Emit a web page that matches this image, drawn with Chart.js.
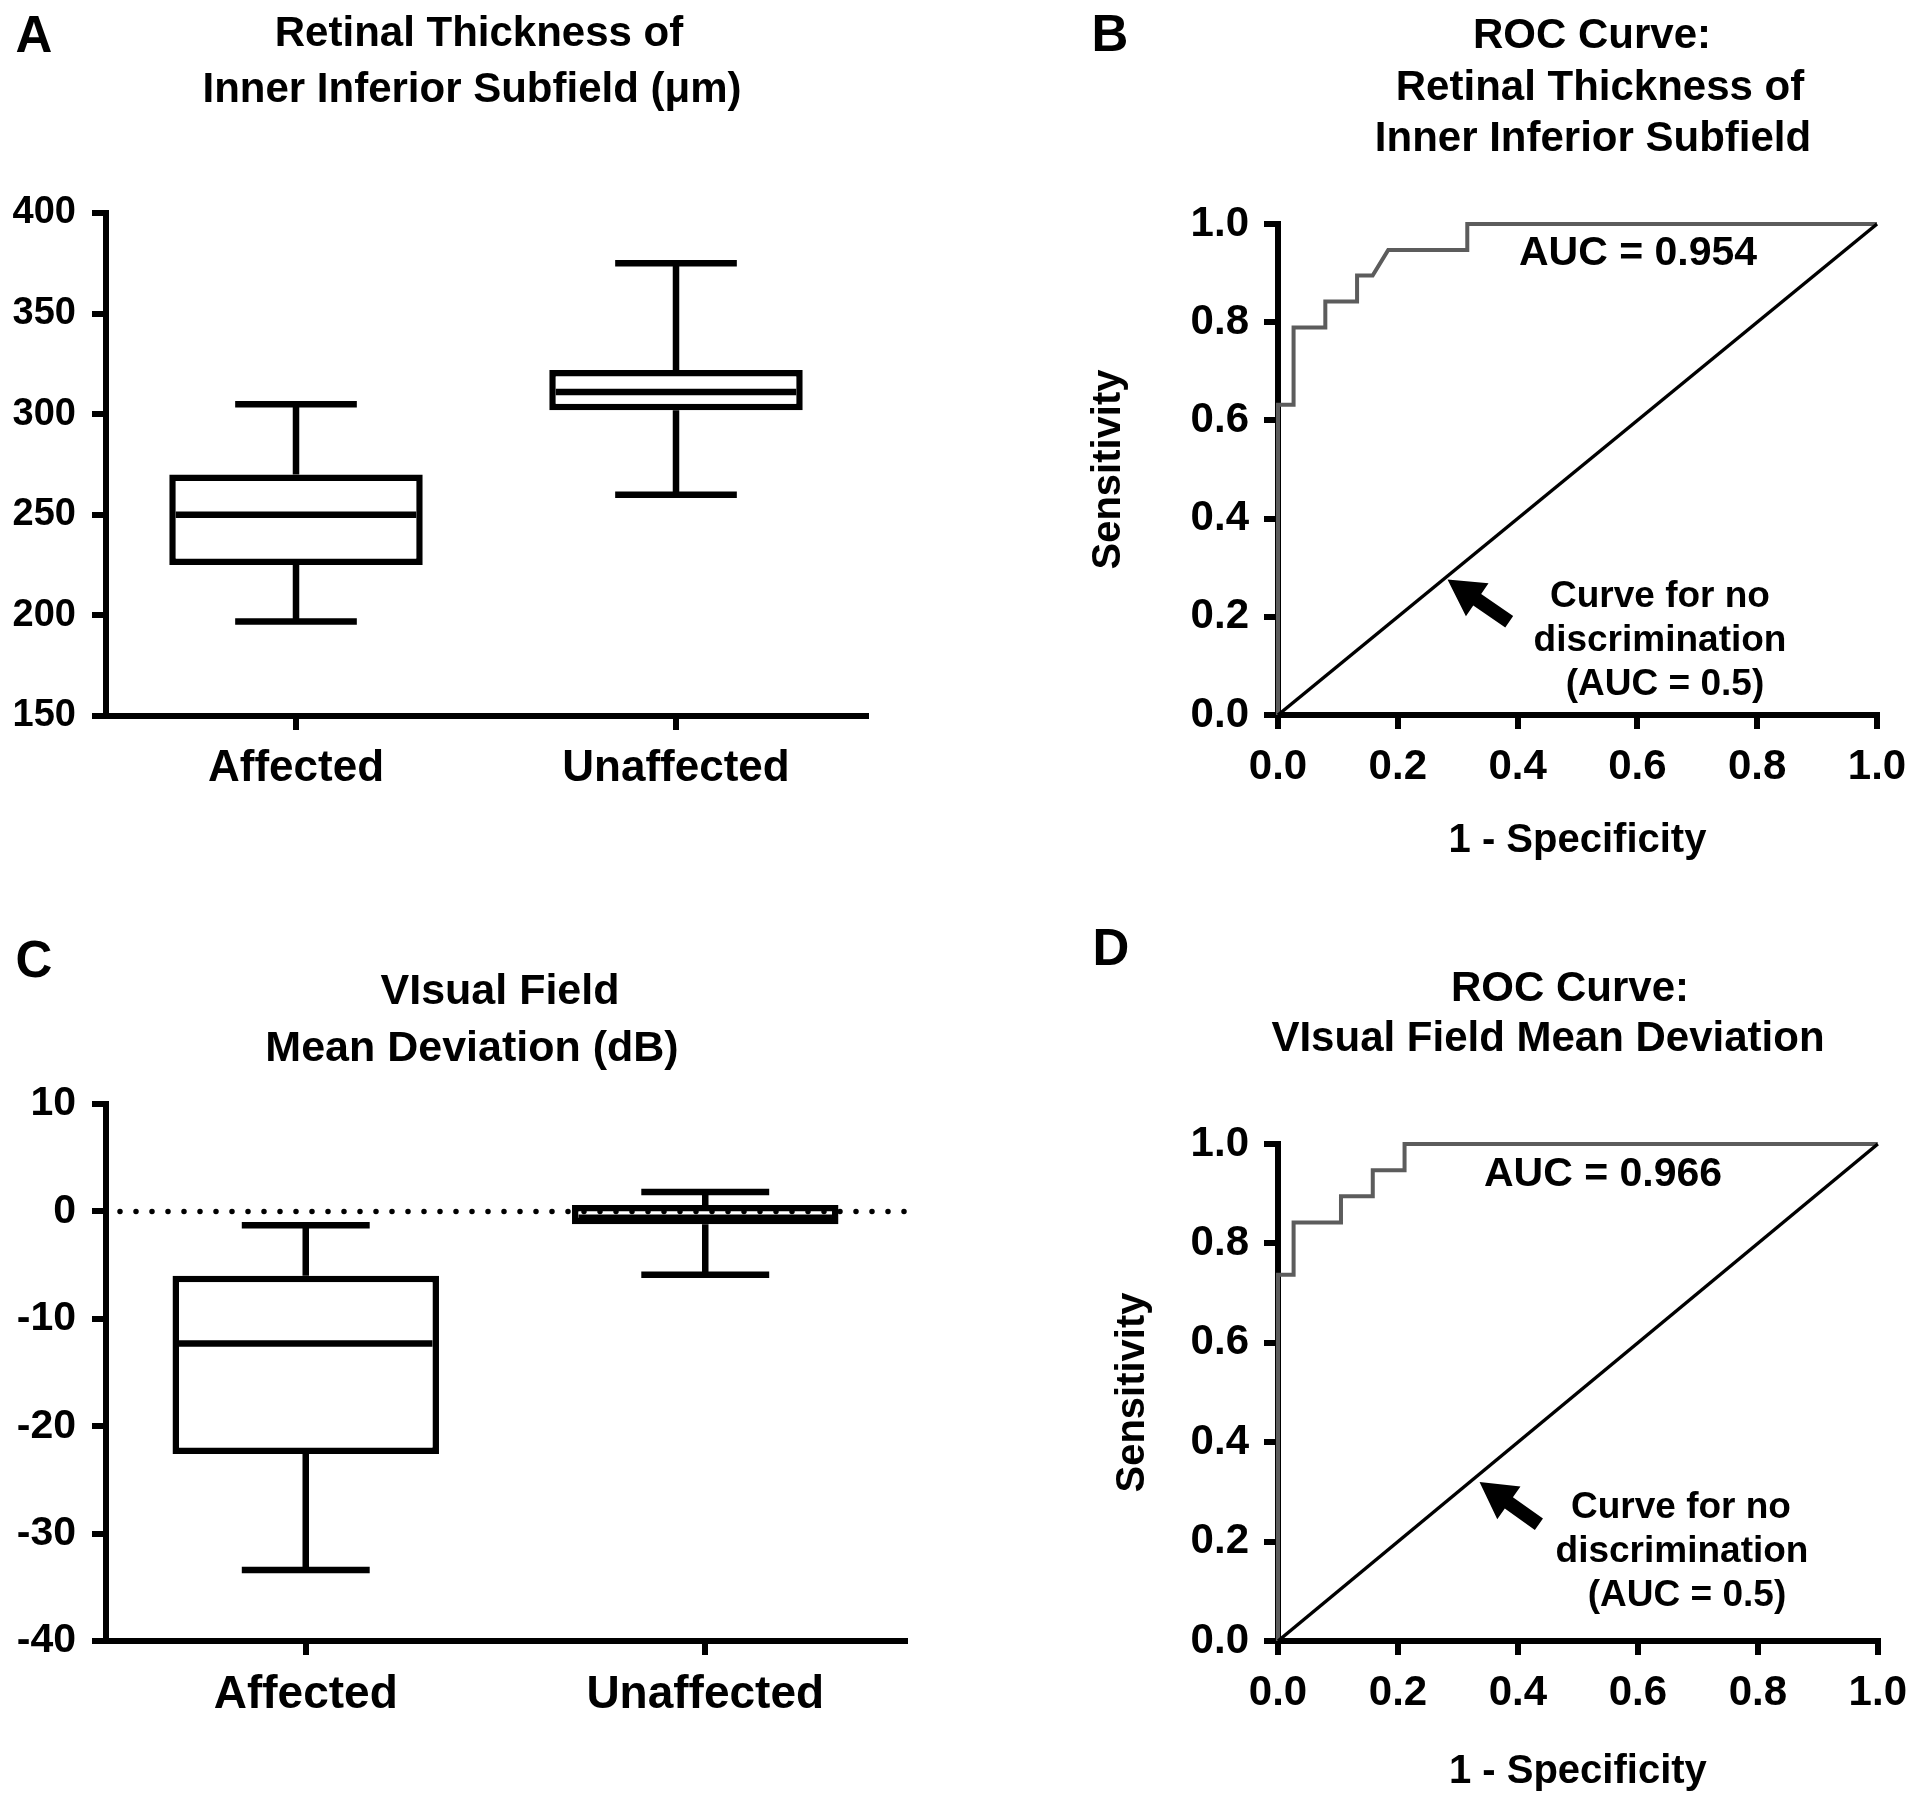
<!DOCTYPE html>
<html>
<head>
<meta charset="utf-8">
<script src="https://cdn.jsdelivr.net/npm/chart.js@4.4.1/dist/chart.umd.min.js"></script>
<style>
html,body{margin:0;padding:0;background:#fff;width:1920px;height:1811px;overflow:hidden;}
canvas{position:absolute;}
.t{position:absolute;font-family:'Liberation Sans',Arial,sans-serif;font-weight:bold;color:#000;line-height:1;white-space:nowrap;transform:translate(-50%,-50%);}
</style>
</head>
<body>
<canvas id="cA" width="960" height="905" style="left:0;top:0"></canvas>
<canvas id="cB" width="960" height="905" style="left:960px;top:0"></canvas>
<canvas id="cC" width="960" height="906" style="left:0;top:905px"></canvas>
<canvas id="cD" width="960" height="906" style="left:960px;top:905px"></canvas>

<div class="t" style="left:34px;top:34px;font-size:51px">A</div>
<div class="t" style="left:479px;top:32px;font-size:42px">Retinal Thickness of</div>
<div class="t" style="left:472px;top:88px;font-size:42px">Inner Inferior Subfield (μm)</div>

<div class="t" style="left:1110px;top:33px;font-size:51px">B</div>
<div class="t" style="left:1592px;top:34px;font-size:42px">ROC Curve:</div>
<div class="t" style="left:1600px;top:86px;font-size:42px">Retinal Thickness of</div>
<div class="t" style="left:1593px;top:137px;font-size:42px">Inner Inferior Subfield</div>
<div class="t" style="left:1638px;top:251px;font-size:41px">AUC = 0.954</div>
<div class="t" style="left:1660px;top:594px;font-size:37px">Curve for no</div>
<div class="t" style="left:1660px;top:638px;font-size:37px">discrimination</div>
<div class="t" style="left:1665px;top:682px;font-size:37px">(AUC = 0.5)</div>

<div class="t" style="left:34px;top:959px;font-size:51px">C</div>
<div class="t" style="left:500px;top:989px;font-size:43px">VIsual Field</div>
<div class="t" style="left:472px;top:1046px;font-size:43px">Mean Deviation (dB)</div>

<div class="t" style="left:1111px;top:947px;font-size:51px">D</div>
<div class="t" style="left:1570px;top:987px;font-size:42px">ROC Curve:</div>
<div class="t" style="left:1548px;top:1037px;font-size:42px">VIsual Field Mean Deviation</div>
<div class="t" style="left:1603px;top:1172px;font-size:41px">AUC = 0.966</div>
<div class="t" style="left:1681px;top:1505px;font-size:37px">Curve for no</div>
<div class="t" style="left:1682px;top:1549px;font-size:37px">discrimination</div>
<div class="t" style="left:1687px;top:1593px;font-size:37px">(AUC = 0.5)</div>

<script>
// ---------- DATA ----------
const boxCategories = ['Affected', 'Unaffected'];

// Panel A: retinal thickness of inner inferior subfield (µm)
const thicknessMin = [197, 260];
const thicknessQ1 = [225, 302];
const thicknessMedian = [250, 311];
const thicknessQ3 = [270, 322];
const thicknessMax = [305, 375];
const thicknessTicks = [150, 200, 250, 300, 350, 400];

// Panel C: visual field mean deviation (dB)
const mdMin = [-33.4, -5.9];
const mdQ1 = [-22.6, -1.2];
const mdMedian = [-12.3, -0.6];
const mdQ3 = [-6.0, 0.6];
const mdMax = [-1.3, 1.8];
const mdTicks = [-40, -30, -20, -10, 0, 10];
const mdReference = 0;

// Panel B: ROC curve, retinal thickness
const rocThicknessFPR = [0, 0, 0.026, 0.026, 0.079, 0.079, 0.132, 0.132, 0.158, 0.184, 0.316, 0.316, 1.0];
const rocThicknessTPR = [0, 0.632, 0.632, 0.789, 0.789, 0.842, 0.842, 0.895, 0.895, 0.947, 0.947, 1.0, 1.0];

// Panel D: ROC curve, visual field mean deviation
const rocMdFPR = [0, 0, 0.026, 0.026, 0.105, 0.105, 0.158, 0.158, 0.211, 0.211, 1.0];
const rocMdTPR = [0, 0.737, 0.737, 0.842, 0.842, 0.895, 0.895, 0.947, 0.947, 1.0, 1.0];

// Line of no discrimination
const chanceFPR = [0, 1];
const chanceTPR = [0, 1];

const rocTicks = [0, 0.2, 0.4, 0.6, 0.8, 1.0];
const rocTickLabels = ['0.0', '0.2', '0.4', '0.6', '0.8', '1.0'];

// Arrow annotation (tip and tail, in data units)
const arrowB = {tip: [0.283, 0.276], tail: [0.386, 0.19]};
const arrowD = {tip: [0.336, 0.32], tail: [0.435, 0.235]};

// ---------- STYLE ----------
const FONT = "'Liberation Sans', Arial, sans-serif";
const AXW = 6;
const BOXW = 6.5;

const boxPlugin = {
  id: 'boxWhiskers',
  afterDatasetsDraw(chart, args, o) {
    if (!o || !o.min) return;
    const ctx = chart.ctx, y = chart.scales.y, area = chart.chartArea;
    const meta = chart.getDatasetMeta(0);
    ctx.save();
    if (o.ref !== undefined) {
      const yy = y.getPixelForValue(o.ref);
      ctx.beginPath();
      ctx.setLineDash([0, 16]);
      ctx.lineCap = 'round';
      ctx.lineWidth = 5.5;
      ctx.strokeStyle = '#000';
      ctx.moveTo(area.left + 14, yy);
      ctx.lineTo(area.right, yy);
      ctx.stroke();
      ctx.setLineDash([]);
    }
    ctx.lineCap = 'butt';
    ctx.lineWidth = BOXW;
    ctx.strokeStyle = '#000';
    meta.data.forEach((bar, i) => {
      const cx = bar.x, half = bar.width / 2, cap = half * 0.48;
      const p = v => y.getPixelForValue(v);
      ctx.beginPath();
      ctx.moveTo(cx, p(o.max[i])); ctx.lineTo(cx, p(o.q3[i]));
      ctx.moveTo(cx, p(o.q1[i])); ctx.lineTo(cx, p(o.min[i]));
      ctx.moveTo(cx - cap, p(o.max[i])); ctx.lineTo(cx + cap, p(o.max[i]));
      ctx.moveTo(cx - cap, p(o.min[i])); ctx.lineTo(cx + cap, p(o.min[i]));
      ctx.moveTo(cx - half + BOXW, p(o.median[i])); ctx.lineTo(cx + half - BOXW, p(o.median[i]));
      ctx.stroke();
    });
    ctx.restore();
  }
};

const arrowPlugin = {
  id: 'rocArrow',
  afterDatasetsDraw(chart, args, o) {
    if (!o || !o.tip) return;
    const x = chart.scales.x, y = chart.scales.y, ctx = chart.ctx;
    const tx = x.getPixelForValue(o.tip[0]), ty = y.getPixelForValue(o.tip[1]);
    const sx = x.getPixelForValue(o.tail[0]), sy = y.getPixelForValue(o.tail[1]);
    const dx = sx - tx, dy = sy - ty, len = Math.hypot(dx, dy);
    const ux = dx / len, uy = dy / len, px = -uy, py = ux;
    const hl = 36, hh = 20, sh = 7;
    const bx = tx + ux * hl, by = ty + uy * hl;
    ctx.save();
    ctx.fillStyle = '#000';
    ctx.beginPath();
    ctx.moveTo(tx, ty);
    ctx.lineTo(bx + px * hh, by + py * hh);
    ctx.lineTo(bx + px * sh, by + py * sh);
    ctx.lineTo(sx + px * sh, sy + py * sh);
    ctx.lineTo(sx - px * sh, sy - py * sh);
    ctx.lineTo(bx - px * sh, by - py * sh);
    ctx.lineTo(bx - px * hh, by - py * hh);
    ctx.closePath();
    ctx.fill();
    ctx.restore();
  }
};

function gridOpts(extra) {
  return Object.assign({display: true, drawOnChartArea: false, tickLength: 14, tickWidth: AXW, tickColor: '#000', color: '#000', lineWidth: AXW}, extra || {});
}
const border = {display: true, color: '#000', width: AXW};

function boxChart(id, cfg) {
  return new Chart(document.getElementById(id), {
    type: 'bar',
    data: {
      labels: boxCategories,
      datasets: [{
        data: boxCategories.map((_, i) => [cfg.q1[i], cfg.q3[i]]),
        backgroundColor: '#fff', borderColor: '#000', borderWidth: BOXW,
        borderSkipped: false, barPercentage: 0.667, categoryPercentage: 1
      }]
    },
    options: {
      responsive: false, animation: false, events: [],
      layout: {padding: cfg.pad},
      plugins: {
        legend: {display: false}, tooltip: {enabled: false},
        boxWhiskers: {min: cfg.min, q1: cfg.q1, median: cfg.median, q3: cfg.q3, max: cfg.max, ref: cfg.ref}
      },
      scales: {
        x: {
          type: 'category', offset: true,
          grid: gridOpts({offset: false}), border: border,
          ticks: {color: '#000', font: {family: FONT, weight: 'bold', size: cfg.xFont}, padding: cfg.xPad, maxRotation: 0, autoSkip: false},
          afterFit: s => { s.height = cfg.xH; }
        },
        y: {
          type: 'linear', min: cfg.ticks[0], max: cfg.ticks[cfg.ticks.length - 1],
          grid: gridOpts(), border: border,
          afterBuildTicks: s => { s.ticks = cfg.ticks.map(v => ({value: v})); },
          ticks: {color: '#000', font: {family: FONT, weight: 'bold', size: cfg.yFont}, padding: 16, autoSkip: false, callback: v => String(v)},
          afterFit: s => { s.width = cfg.yW; }
        }
      }
    },
    plugins: [boxPlugin]
  });
}

function rocChart(id, cfg) {
  return new Chart(document.getElementById(id), {
    type: 'scatter',
    data: {
      datasets: [
        {data: chanceFPR.map((v, i) => ({x: v, y: chanceTPR[i]})), showLine: true, borderColor: '#000', borderWidth: 3.5, pointRadius: 0, clip: false},
        {data: cfg.fpr.map((v, i) => ({x: v, y: cfg.tpr[i]})), showLine: true, borderColor: '#5c5c5c', borderWidth: 4, pointRadius: 0, clip: false, borderJoinStyle: 'miter'}
      ]
    },
    options: {
      responsive: false, animation: false, events: [],
      layout: {padding: cfg.pad},
      plugins: {legend: {display: false}, tooltip: {enabled: false}, rocArrow: cfg.arrow},
      scales: {
        x: {
          type: 'linear', min: 0, max: 1,
          grid: gridOpts(), border: border,
          afterBuildTicks: s => { s.ticks = rocTicks.map(v => ({value: v})); },
          ticks: {color: '#000', font: {family: FONT, weight: 'bold', size: 42}, padding: 13, maxRotation: 0, autoSkip: false,
                  callback: (v, i) => rocTickLabels[i]},
          title: {display: true, text: '1 - Specificity', color: '#000', font: {family: FONT, weight: 'bold', size: 40}, padding: {top: 0, bottom: cfg.xTitlePad}},
          afterFit: s => { s.height = cfg.xH; }
        },
        y: {
          type: 'linear', min: 0, max: 1,
          grid: gridOpts(), border: border,
          afterBuildTicks: s => { s.ticks = rocTicks.map(v => ({value: v})); },
          ticks: {color: '#000', font: {family: FONT, weight: 'bold', size: 42}, padding: 15, autoSkip: false,
                  callback: (v, i) => rocTickLabels[i]},
          title: {display: true, text: 'Sensitivity', color: '#000', font: {family: FONT, weight: 'bold', size: 40}, padding: {top: cfg.yTitlePad, bottom: 0}},
          afterFit: s => { s.width = cfg.yW; }
        }
      }
    },
    plugins: [arrowPlugin]
  });
}

boxChart('cA', {
  min: thicknessMin, q1: thicknessQ1, median: thicknessMedian, q3: thicknessQ3, max: thicknessMax,
  ticks: thicknessTicks, pad: {left: 0, top: 213, right: 94, bottom: 0},
  xH: 189, yW: 106, xFont: 44, yFont: 38, xPad: 12
});

boxChart('cC', {
  min: mdMin, q1: mdQ1, median: mdMedian, q3: mdQ3, max: mdMax, ref: mdReference,
  ticks: mdTicks, pad: {left: 0, top: 199, right: 55, bottom: 0},
  xH: 170, yW: 106, xFont: 46, yFont: 41, xPad: 13
});

rocChart('cB', {
  fpr: rocThicknessFPR, tpr: rocThicknessTPR, arrow: arrowB,
  pad: {left: 0, top: 224, right: 43, bottom: 0},
  xH: 190, yW: 318, xTitlePad: 40, yTitlePad: 125
});

rocChart('cD', {
  fpr: rocMdFPR, tpr: rocMdTPR, arrow: arrowD,
  pad: {left: 0, top: 239, right: 40, bottom: 0},
  xH: 170, yW: 318, xTitlePad: 15, yTitlePad: 149
});
</script>
</body>
</html>
